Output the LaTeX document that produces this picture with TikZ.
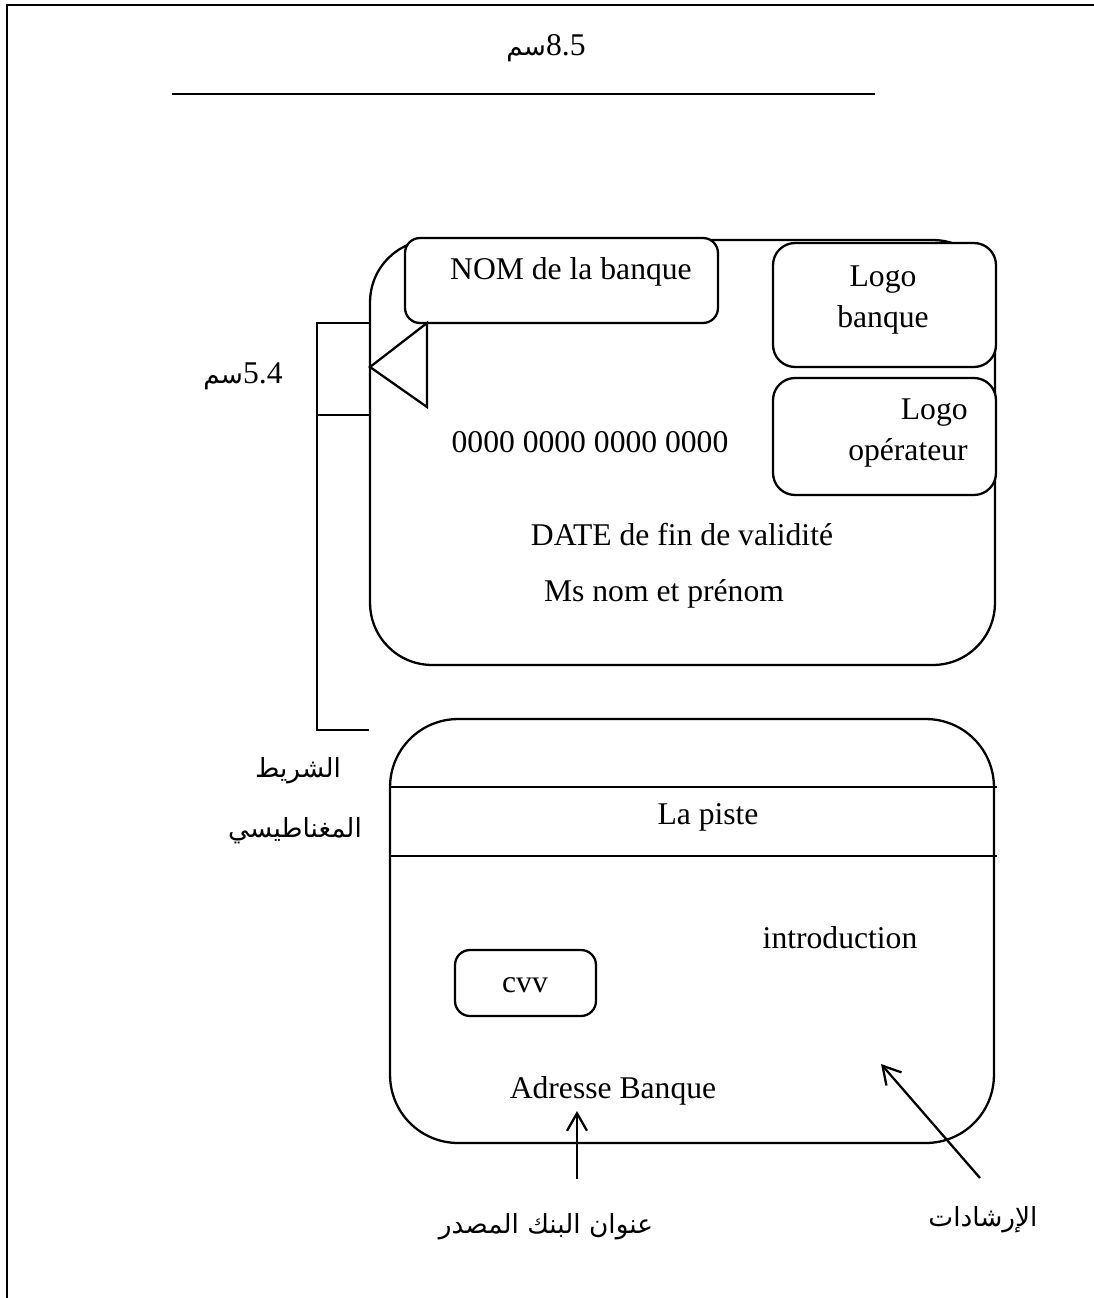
\documentclass[tikz,border=0pt]{standalone}
\usepackage{fontspec}
\setmainfont{Liberation Serif}
\newfontfamily\arabicfont[Script=Arabic]{DejaVu Sans}
\TeXXeTstate=1
\usetikzlibrary{arrows.meta}
\begin{document}
\begin{tikzpicture}[x=0.02cm,y=-0.02cm,
  ln/.style={line width=1.3pt},
  card/.style={ln,draw,fill=white,inner sep=0pt},
  lat/.style={font=\fontsize{18}{23}\selectfont,inner sep=0pt},
  arb/.style={font=\arabicfont\fontsize{15}{18}\selectfont,inner sep=0pt},
  arr/.style={ln,-{Straight Barb[length=3.5mm,width=4mm,line width=1.3pt]}}]
\useasboundingbox (0,0) rectangle (1094,1298);
% frame
\coordinate (fbl) at (7,1298);
\coordinate (ftl) at (7,5);
\coordinate (ftr) at (1094,5);
\draw[ln] (fbl) -- (ftl) -- (ftr);
% top dimension
\node[lat] (w) at (546,48) {{\arabicfont\fontsize{15}{18}\selectfont سم}8.5};
\coordinate (wl) at (172,94);
\coordinate (wr) at (875,94);
\draw[ln] (wl) -- (wr);
% front card
\node[card,rounded corners=1.24cm,minimum width=12.5cm,minimum height=8.5cm] (front) at (682.5,452.5) {};
\node[card,rounded corners=0.3cm,minimum width=6.26cm,minimum height=1.7cm] (nom) at (561.5,280.5) {};
\node[lat] (nomt) at (571,272) {NOM de la banque};
\node[card,rounded corners=0.44cm,minimum width=4.46cm,minimum height=2.48cm] (lb) at (884.5,305) {};
\node[lat,align=center] (lbt) at (883,300) {Logo\\banque};
\node[card,rounded corners=0.44cm,minimum width=4.46cm,minimum height=2.34cm] (lo) at (884.5,436.5) {};
\node[lat,align=right,anchor=east] (lot) at (968,433) {Logo\\opérateur};
% chip triangle
\coordinate (t1) at (427,323);
\coordinate (t2) at (370,367);
\coordinate (t3) at (427,407);
\draw[ln,line join=miter] (t1) -- (t2) -- (t3) -- cycle;
\node[lat] (num) at (590,442) {0000 0000 0000 0000};
\node[lat] (date) at (682,535) {DATE de fin de validité};
\node[lat] (ms) at (664,594) {Ms nom et prénom};
% height bracket
\coordinate (b1) at (370,323);
\coordinate (b2) at (317,323);
\coordinate (b3) at (317,730);
\coordinate (b4) at (369,730);
\coordinate (b5) at (317,415);
\coordinate (b6) at (370,415);
\draw[ln] (b1) -- (b2) -- (b3) -- (b4);
\draw[ln] (b5) -- (b6);
\node[lat] (h) at (243,376) {{\arabicfont\fontsize{15}{18}\selectfont سم}5.4};
% back card
\node[card,rounded corners=1.36cm,minimum width=12.08cm,minimum height=8.48cm] (back) at (692,931) {};
\coordinate (s1l) at (390,787);
\coordinate (s1r) at (997,787);
\coordinate (s2l) at (390,856);
\coordinate (s2r) at (997,856);
\draw[ln] (s1l) -- (s1r);
\draw[ln] (s2l) -- (s2r);
\node[lat] (piste) at (708,817) {La piste};
\node[card,rounded corners=0.3cm,minimum width=2.82cm,minimum height=1.32cm] (cvvb) at (525.5,983) {};
\node[lat] (cvv) at (525,985) {cvv};
\node[lat] (intro) at (840,938) {introduction};
\node[lat] (adr) at (613,1091) {Adresse Banque};
\node[arb] (sh1) at (298,771) {الشريط};
\node[arb] (sh2) at (295,831) {المغناطيسي};
% arrows and labels
\coordinate (a1s) at (577,1179);
\coordinate (a1e) at (577,1111);
\draw[arr] (a1s) -- (a1e);
\node[arb] (l1) at (546,1227) {\beginR عنوان البنك المصدر\endR};
\coordinate (a2s) at (980,1178);
\coordinate (a2e) at (881,1064);
\draw[arr] (a2s) -- (a2e);
\node[arb] (l2) at (983,1220) {الإرشادات};
\end{tikzpicture}
\end{document}
